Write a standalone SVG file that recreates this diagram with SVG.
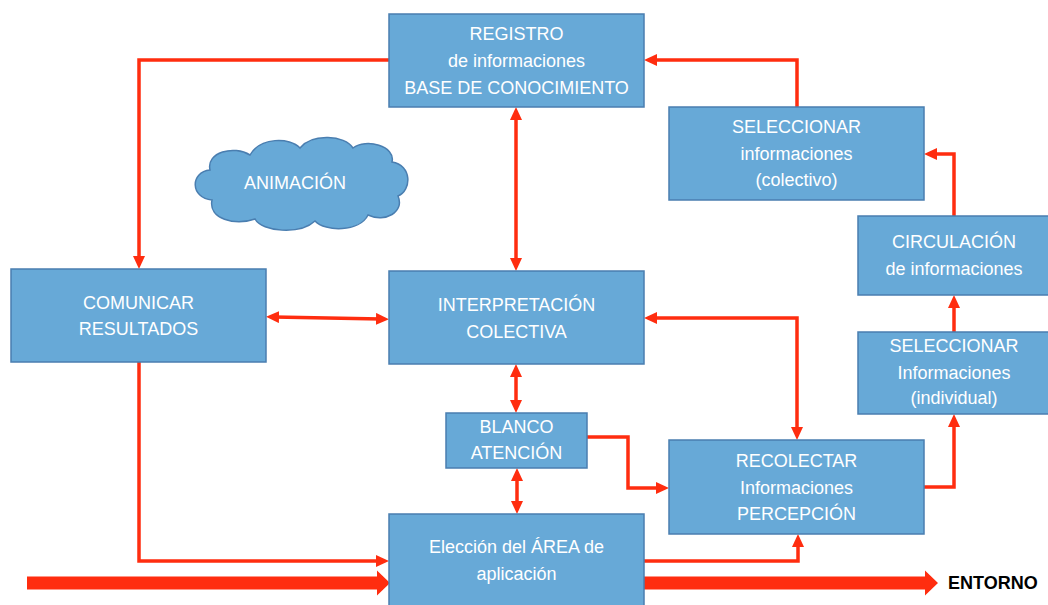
<svg xmlns="http://www.w3.org/2000/svg" width="1048" height="605" viewBox="0 0 1048 605">
<style>
.box{fill:#67A9D7;stroke:#4A7EB0;stroke-width:1.5}
.t{font-family:"Liberation Sans",Arial,sans-serif;font-size:18px;fill:#fff;text-anchor:middle}
.c{fill:none;stroke:#FF2D0F;stroke-width:3.5;stroke-linejoin:miter}
.thick{fill:#FF2D0F}
</style>
<defs>
<marker id="ah" markerUnits="userSpaceOnUse" markerWidth="14" markerHeight="14" refX="5" refY="6" orient="auto-start-reverse">
<path d="M0,0 L13,6 L0,12 z" fill="#FF2D0F"/>
</marker>
</defs>
<rect width="1048" height="605" fill="#fff"/>

<g id="connectors">
<path class="c" d="M389,60 H139 V261" marker-end="url(#ah)"/>
<path class="c" d="M139,362 V561 H381" marker-end="url(#ah)"/>
<path class="c" d="M644,561 H798 V542" marker-end="url(#ah)"/>
<path class="c" d="M274,317 L381,319" marker-start="url(#ah)" marker-end="url(#ah)"/>
<path class="c" d="M516,115 V263" marker-start="url(#ah)" marker-end="url(#ah)"/>
<path class="c" d="M516,372 V405" marker-start="url(#ah)" marker-end="url(#ah)"/>
<path class="c" d="M517,476 V506" marker-start="url(#ah)" marker-end="url(#ah)"/>
<path class="c" d="M587,437 H628 V488 H661" marker-end="url(#ah)"/>
<path class="c" d="M652,318 H797 V432" marker-start="url(#ah)" marker-end="url(#ah)"/>
<path class="c" d="M924,487 H954 V422" marker-end="url(#ah)"/>
<path class="c" d="M954,332 V303" marker-end="url(#ah)"/>
<path class="c" d="M954,216 V154 H932" marker-end="url(#ah)"/>
<path class="c" d="M797,107 V60 H652" marker-end="url(#ah)"/>
<polygon class="thick" points="27,576.5 377,576.5 377,570.5 390,583 377,595.5 377,589.5 27,589.5"/>
<polygon class="thick" points="644,576.5 925,576.5 925,570.5 938,583 925,595.5 925,589.5 644,589.5"/>
</g>

<g id="registro">
<rect class="box" x="389" y="14" width="255" height="93"/>
<text class="t" x="516.5" y="40">REGISTRO</text>
<text class="t" x="516.5" y="67">de informaciones</text>
<text class="t" x="516.5" y="94">BASE DE CONOCIMIENTO</text>
</g>

<g id="animacion">
<path d="M212,200 C190,198 190,172 210,170 C206,152 234,145 250,155 C260,137 290,137 300,148 C312,133 345,135 353,148 C366,138 396,146 392,162 C412,165 412,190 398,196 C405,212 385,223 368,215 C360,232 325,232 315,221 C300,235 262,232 255,219 C235,226 208,219 212,200 Z" fill="#67A9D7" stroke="#4A7EB0" stroke-width="1.5"/>
<text class="t" x="295" y="189">ANIMACIÓN</text>
</g>

<g id="comunicar">
<rect class="box" x="11" y="269" width="255" height="93"/>
<text class="t" x="138.5" y="309">COMUNICAR</text>
<text class="t" x="138.5" y="335">RESULTADOS</text>
</g>

<g id="interpretacion">
<rect class="box" x="389" y="271" width="255" height="93"/>
<text class="t" x="516.5" y="311">INTERPRETACIÓN</text>
<text class="t" x="516.5" y="338">COLECTIVA</text>
</g>

<g id="blanco">
<rect class="box" x="446" y="413" width="141" height="55"/>
<text class="t" x="516.5" y="433">BLANCO</text>
<text class="t" x="516.5" y="459">ATENCIÓN</text>
</g>

<g id="eleccion">
<rect class="box" x="389" y="514" width="255" height="95"/>
<text class="t" x="516.5" y="553">Elección del ÁREA de</text>
<text class="t" x="516.5" y="580">aplicación</text>
</g>

<g id="recolectar">
<rect class="box" x="669" y="440" width="255" height="94"/>
<text class="t" x="796.5" y="467">RECOLECTAR</text>
<text class="t" x="796.5" y="494">Informaciones</text>
<text class="t" x="796.5" y="520">PERCEPCIÓN</text>
</g>

<g id="seleccionar-colectivo">
<rect class="box" x="669" y="107" width="255" height="93"/>
<text class="t" x="796.5" y="133">SELECCIONAR</text>
<text class="t" x="796.5" y="160">informaciones</text>
<text class="t" x="796.5" y="186">(colectivo)</text>
</g>

<g id="circulacion">
<rect class="box" x="858" y="216" width="193" height="79"/>
<text class="t" x="954" y="248">CIRCULACIÓN</text>
<text class="t" x="954" y="275">de informaciones</text>
</g>

<g id="seleccionar-individual">
<rect class="box" x="858" y="332" width="193" height="82"/>
<text class="t" x="954" y="352">SELECCIONAR</text>
<text class="t" x="954" y="379">Informaciones</text>
<text class="t" x="954" y="404">(individual)</text>
</g>

<g id="entorno">
<text x="948" y="589" font-family="'Liberation Sans',Arial,sans-serif" font-size="18" font-weight="bold" fill="#000">ENTORNO</text>
</g>
</svg>
